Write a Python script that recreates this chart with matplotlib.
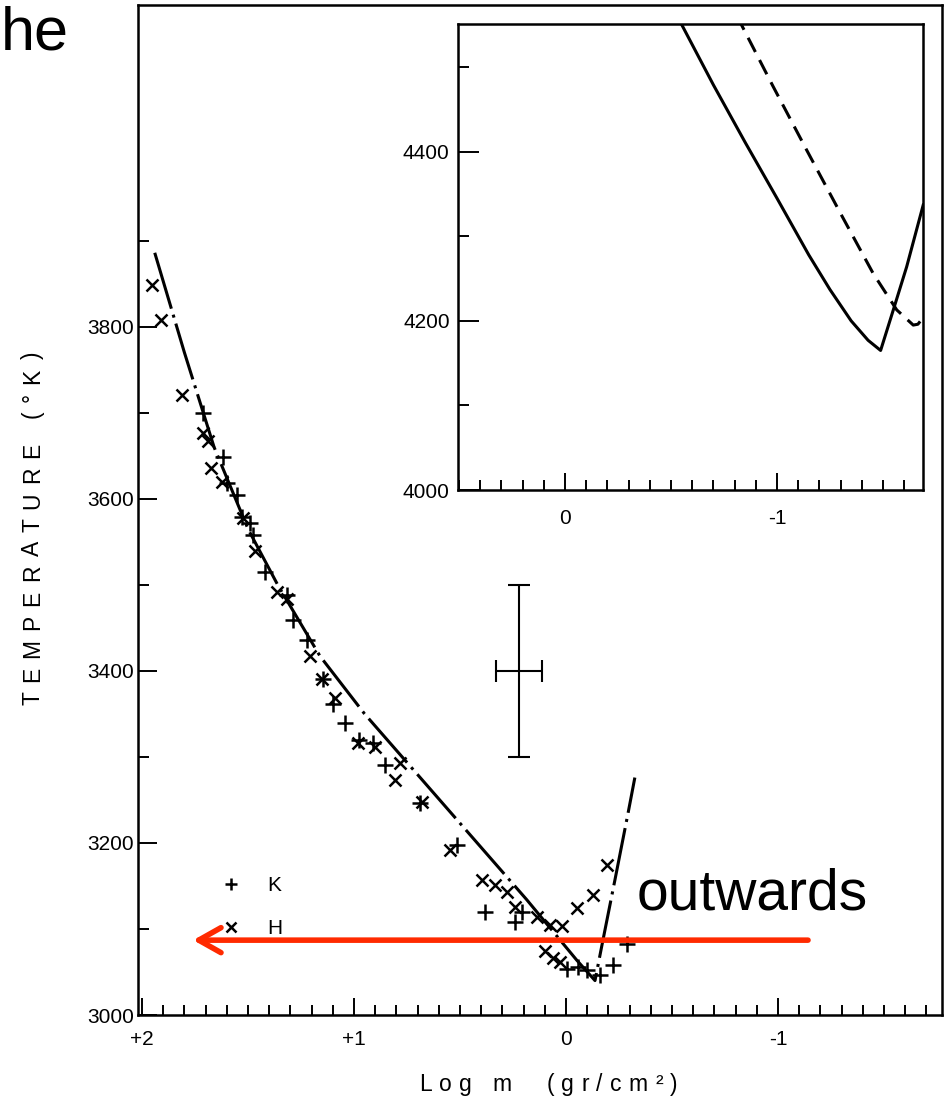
import matplotlib
matplotlib.use("Agg")
import matplotlib.pyplot as plt
from matplotlib.ticker import FixedLocator, FixedFormatter, MultipleLocator

plt.rcParams["font.family"] = ["Liberation Sans", "DejaVu Sans"]
plt.rcParams["lines.scale_dashes"] = False
plt.rcParams["axes.linewidth"] = 1.8

W, H, DPI = 949, 1101, 100

# ---------------- data ----------------
# K-line (+) temperatures vs column mass
k_logm = [1.711, 1.616, 1.600, 1.553, 1.530, 1.491, 1.475, 1.420, 1.318, 1.286,
          1.223, 1.145, 1.097, 1.042, 0.975, 0.909, 0.854, 0.689, 0.516, 0.382,
          0.209, 0.241, -0.003, -0.058, -0.097, -0.160, -0.223, -0.286]
k_temp = [3700, 3649, 3618, 3605, 3579, 3572, 3558, 3515, 3488, 3459,
          3436, 3390, 3362, 3339, 3320, 3316, 3291, 3246, 3198, 3120,
          3120, 3108, 3054, 3056, 3052, 3047, 3058, 3083]

# H-line (x) temperatures vs column mass
h_logm = [1.954, 1.912, 1.813, 1.711, 1.687, 1.676, 1.624, 1.522, 1.467, 1.365,
          1.318, 1.208, 1.152, 1.088, 0.980, 0.901, 0.807, 0.783, 0.681, 0.547,
          0.398, 0.335, 0.280, 0.241, 0.138, 0.075, 0.020, -0.050, -0.129, -0.192,
          0.099, 0.060, 0.028]
h_temp = [3849, 3808, 3721, 3677, 3667, 3636, 3620, 3578, 3539, 3492,
          3483, 3417, 3391, 3368, 3316, 3312, 3273, 3293, 3248, 3192,
          3157, 3151, 3143, 3126, 3114, 3105, 3103, 3124, 3140, 3174,
          3074, 3066, 3062]

# model temperature structure (dash-dot)
model_logm = [1.94, 1.80, 1.66, 1.50, 1.36, 1.16, 0.95, 0.656, 0.185, -0.050,
              -0.137, -0.168, -0.231, -0.294, -0.325]
model_temp = [3886, 3770, 3660, 3565, 3500, 3417, 3350, 3267, 3134, 3064,
              3040, 3079, 3157, 3236, 3276]

# inset models
inset_solid_logm = [-0.53, -0.70, -0.85, -1.00, -1.15, -1.25, -1.35, -1.43,
                    -1.489, -1.549, -1.612, -1.69]
inset_solid_temp = [4560, 4479, 4411, 4345, 4278, 4237, 4200, 4177,
                    4165, 4213, 4264, 4337]
inset_dash_logm = [-0.81, -0.98, -1.14, -1.30, -1.454, -1.565, -1.643, -1.665, -1.69]
inset_dash_temp = [4561, 4478, 4402, 4327, 4256, 4213, 4195, 4196, 4204]

# representative error bar
err_logm, err_temp = 0.222, 3400
err_dlogm, err_dtemp = 0.11, 100

main_yticks = [3000, 3200, 3400, 3600, 3800]
main_yminor = [3100, 3300, 3500, 3700, 3900]
main_xticks = [2, 1, 0, -1]
main_xlabels = ["+2", "+1", "0", "-1"]
inset_yticks = [4000, 4200, 4400]
inset_yminor = [4100, 4300, 4500]
inset_xticks = [0, -1]
inset_xlabels = ["0", "-1"]

# ---------------- figure ----------------
fig = plt.figure(figsize=(W / DPI, H / DPI), dpi=DPI)
fig.patch.set_facecolor("white")


def px_box(left, top, right, bottom):
    return [left / W, 1 - bottom / H, (right - left) / W, (bottom - top) / H]


ax = fig.add_axes(px_box(138, 5, 942, 1015))
ax.set_xlim(2.019, -1.774)
ax.set_ylim(3000, 4174)

ax.plot(model_logm, model_temp, color="black", lw=2.2,
        linestyle=(0, (42, 4.5, 2.2, 4.5)), solid_capstyle="butt")
ax.plot(k_logm, k_temp, linestyle="none", marker="+", ms=11, mew=1.8,
        color="black", label="K")
ax.plot(h_logm, h_temp, linestyle="none", marker="x", ms=8.5, mew=1.8,
        color="black", label="H")
ax.errorbar([err_logm], [err_temp], xerr=[err_dlogm], yerr=[err_dtemp],
            fmt="none", ecolor="black", elinewidth=1.5, capsize=8, capthick=1.5)

ax.yaxis.set_major_locator(FixedLocator(main_yticks))
ax.yaxis.set_minor_locator(FixedLocator(main_yminor))
ax.xaxis.set_major_locator(FixedLocator(main_xticks))
ax.xaxis.set_major_formatter(FixedFormatter(main_xlabels))
ax.xaxis.set_minor_locator(MultipleLocator(0.1))
ax.tick_params(axis="both", which="both", direction="in", width=1.4,
               labelsize=15, colors="black", top=False, right=False)
ax.tick_params(axis="y", which="major", length=14, pad=3)
ax.tick_params(axis="y", which="minor", length=8)
ax.tick_params(axis="x", which="major", length=12, pad=11)
ax.tick_params(axis="x", which="minor", length=7)

leg = ax.legend(loc="upper left", bbox_to_anchor=(221 / W, 1 - 876 / H),
                bbox_transform=fig.transFigure, frameon=False, fontsize=15,
                handlelength=1.0, handletextpad=1.2, labelspacing=1.15,
                borderpad=0, borderaxespad=0, markerscale=0.85, numpoints=1)

# outward direction arrow
ax.annotate("", xy=(1.759, 3087), xytext=(-1.142, 3087),
            arrowprops=dict(arrowstyle="->,head_length=0.8,head_width=0.45",
                            color="#ff2a00", lw=4, shrinkA=0, shrinkB=0,
                            mutation_scale=20), zorder=5)

# ---------------- inset ----------------
axi = fig.add_axes(px_box(458, 24, 923, 490))
axi.set_zorder(3)
axi.set_facecolor("white")
axi.set_xlim(0.505, -1.689)
axi.set_ylim(4000, 4551)
axi.plot(inset_solid_logm, inset_solid_temp, color="black", lw=2.2)
axi.plot(inset_dash_logm, inset_dash_temp, color="black", lw=2.2,
         linestyle=(0, (11.5, 6.5)))
axi.yaxis.set_major_locator(FixedLocator(inset_yticks))
axi.yaxis.set_minor_locator(FixedLocator(inset_yminor))
axi.xaxis.set_major_locator(FixedLocator(inset_xticks))
axi.xaxis.set_major_formatter(FixedFormatter(inset_xlabels))
axi.xaxis.set_minor_locator(MultipleLocator(0.1))
axi.tick_params(axis="both", which="both", direction="in", width=1.4,
                labelsize=15, colors="black", top=False, right=False)
axi.tick_params(axis="y", which="major", length=15, pad=6)
axi.tick_params(axis="y", which="minor", length=8)
axi.tick_params(axis="x", which="major", length=12, pad=14)
axi.tick_params(axis="x", which="minor", length=7)


# ---------------- letter-spaced axis titles ----------------
def spaced_text(s, x_px, y_px, gap_px, size, vertical=False):
    renderer = fig.canvas.get_renderer()
    px_per_pt = DPI / 72.0
    pos = 0.0
    for ch in s:
        if ch == " ":
            pos += 0.278 * size * px_per_pt + gap_px
            continue
        probe = fig.text(0, 0, ch, fontsize=size)
        w = probe.get_window_extent(renderer).width
        probe.remove()
        if vertical:
            fig.text(x_px / W, 1 - (y_px - pos) / H, ch, fontsize=size,
                     rotation=90, rotation_mode="anchor", ha="left",
                     va="baseline", color="black")
        else:
            fig.text((x_px + pos) / W, 1 - y_px / H, ch, fontsize=size,
                     ha="left", va="baseline", color="black")
        pos += w + gap_px


spaced_text("TEMPERATURE (°K)", 39, 705, 9.0, 16.5, vertical=True)
spaced_text("Log m  (gr/cm²)", 419, 1091, 7.3, 16.5)

# ---------------- annotations ----------------
fig.text(1 / W, 1 - 50 / H, "he", fontsize=44, ha="left", va="baseline",
         color="black")
fig.text(637 / W, 1 - 910 / H, "outwards", fontsize=41, ha="left",
         va="baseline", color="black")

fig.savefig("out.png", dpi=DPI, facecolor="white")
